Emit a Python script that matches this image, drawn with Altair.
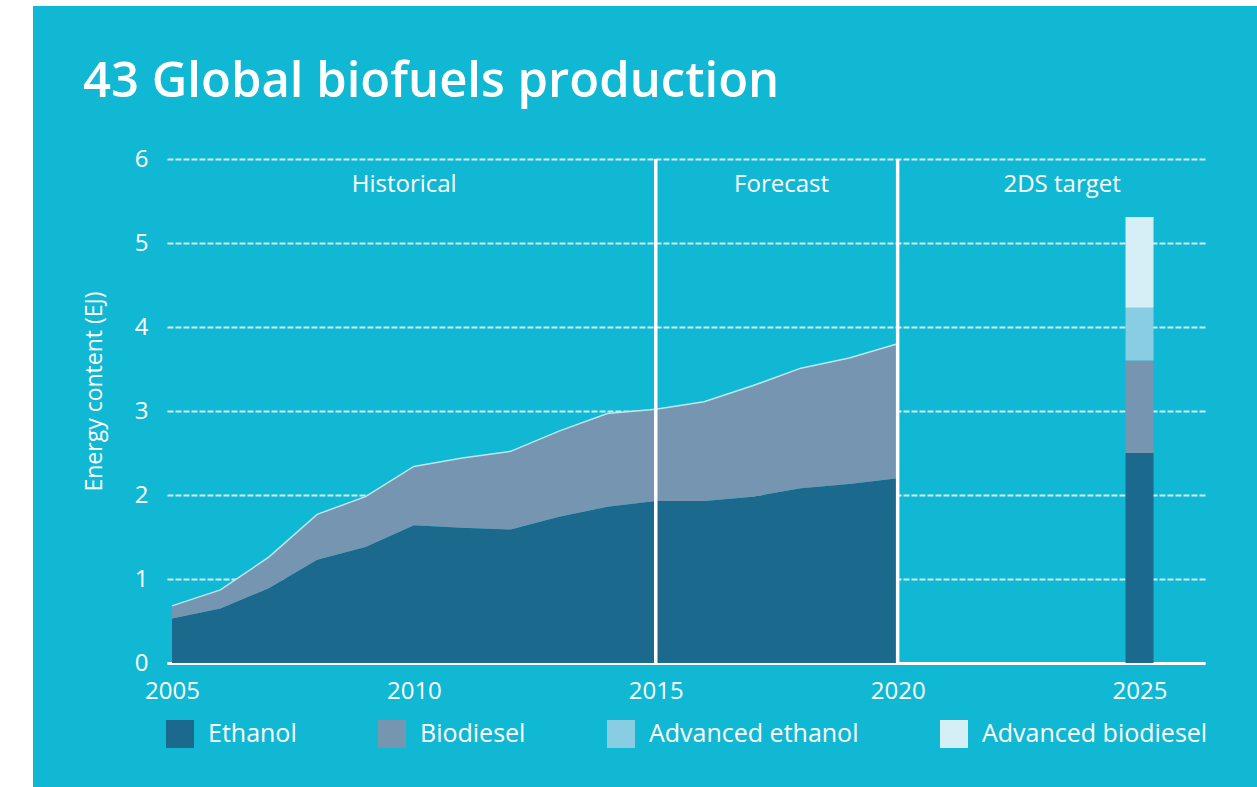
import altair as alt
import pandas as pd

# ---- data ----
years = list(range(2005, 2021))
ethanol = [0.53, 0.65, 0.89, 1.23, 1.38, 1.64, 1.61, 1.59, 1.74, 1.86, 1.93, 1.93, 1.98, 2.08, 2.13, 2.20]
biodiesel = [0.15, 0.22, 0.37, 0.54, 0.60, 0.70, 0.83, 0.93, 1.02, 1.11, 1.09, 1.18, 1.32, 1.43, 1.50, 1.60]

target_year = 2025
fuels = ["Ethanol", "Biodiesel", "Advanced ethanol", "Advanced biodiesel"]
target_values = [2.50, 1.10, 0.63, 1.08]

period_labels = ["Historical", "Forecast", "2DS target"]
period_label_x = [2009.8, 2017.6, 2023.4]
period_bounds = [2015, 2020]

x_ticks = [2005, 2010, 2015, 2020, 2025]
y_ticks = [0, 1, 2, 3, 4, 5, 6]

title_text = "43 Global biofuels production"

# ---- styles ----
BG = "#10B8D3"
colors = ["#1B6A8D", "#7595B0", "#88CDE2", "#D6EEF5"]
FONT = "Open Sans"
W, H = 1038, 504
PAD = {"left": 167, "top": 159, "right": 52, "bottom": 124}

area_df = pd.DataFrame({
    "year": years * 2,
    "fuel": ["Ethanol"] * len(years) + ["Biodiesel"] * len(years),
    "value": ethanol + biodiesel,
    "order": [0] * len(years) + [1] * len(years),
})
total_df = pd.DataFrame({"year": years, "total": [e + b for e, b in zip(ethanol, biodiesel)]})
bar_df = pd.DataFrame({
    "year": [target_year] * len(fuels),
    "fuel": fuels,
    "value": target_values,
    "order": list(range(len(fuels))),
})
bounds_df = pd.DataFrame({"year": period_bounds})
labels_df = pd.DataFrame({"year": period_label_x, "label": period_labels})
title_df = pd.DataFrame({"title": [title_text]})
one_df = pd.DataFrame({"a": [0]})

xscale = alt.Scale(domain=[2005, 2026.25], nice=False, zero=False)
yscale = alt.Scale(domain=[0, 6], nice=False)

x_axis = alt.Axis(values=x_ticks, format="d", title=None)
y_axis = alt.Axis(values=y_ticks, title="Energy content (EJ)")

x_enc = alt.X("year:Q", scale=xscale, axis=x_axis)

color = alt.Color(
    "fuel:N",
    scale=alt.Scale(domain=fuels, range=colors),
    legend=alt.Legend(
        orient="none", legendX=-1, legendY=561, direction="horizontal",
        title=None, symbolType="square", symbolSize=784, symbolStrokeWidth=0,
        symbolOpacity=1, labelFontSize=25, labelFont=FONT, labelColor="white",
        labelOffset=14, columnPadding=81, padding=0, labelLimit=400,
    ),
)

area = alt.Chart(area_df).mark_area(opacity=1).encode(
    x=x_enc,
    y=alt.Y("value:Q", stack="zero", scale=yscale, axis=y_axis),
    color=color,
    order=alt.Order("order:Q"),
)

top_line = alt.Chart(total_df).mark_line(color="#BDE6EF", strokeWidth=1.5).encode(
    x=x_enc,
    y=alt.Y("total:Q", scale=yscale, axis=y_axis),
)

bars = alt.Chart(bar_df).mark_bar(size=28, opacity=1).encode(
    x=x_enc,
    y=alt.Y("value:Q", stack="zero", scale=yscale, axis=y_axis),
    color=color,
    order=alt.Order("order:Q"),
)

rules = alt.Chart(bounds_df).mark_rule(color="white", strokeWidth=3.5).encode(
    x=x_enc,
    y=alt.value(0),
    y2=alt.value(H + 2),
)

period_text = alt.Chart(labels_df).mark_text(
    color="white", font=FONT, fontSize=24, baseline="middle", align="center"
).encode(
    x=x_enc,
    y=alt.value(26),
    text="label:N",
)

title_mark = alt.Chart(title_df).mark_text(
    color="white", font=FONT, fontSize=49, fontWeight=600,
    baseline="alphabetic", align="left",
).encode(
    x=alt.value(83 - PAD["left"]),
    y=alt.value(97 - PAD["top"]),
    text="title:N",
)

left_strip = alt.Chart(one_df).mark_rect(color="white").encode(
    x=alt.value(-PAD["left"]), x2=alt.value(-PAD["left"] + 33),
    y=alt.value(-PAD["top"]), y2=alt.value(H + PAD["bottom"]),
)
top_strip = alt.Chart(one_df).mark_rect(color="white").encode(
    x=alt.value(-PAD["left"]), x2=alt.value(W + PAD["right"]),
    y=alt.value(-PAD["top"]), y2=alt.value(-PAD["top"] + 6),
)

chart = alt.layer(
    area, top_line, bars, rules, period_text, title_mark, left_strip, top_strip
).properties(
    width=W,
    height=H,
    padding=PAD,
    autosize=alt.AutoSizeParams(type="none"),
).configure(
    background=BG,
).configure_view(
    stroke=None,
).configure_axisX(
    domainColor="white", domainWidth=3, ticks=False, tickSize=0,
    labelColor="white", labelFont=FONT, labelFontSize=24, labelPadding=16,
    grid=False, zindex=1, labelFlush=False,
).configure_axisY(
    domain=False, ticks=False, tickSize=0, grid=True, gridColor="white",
    gridWidth=2, gridOpacity=0.8, gridDash=[6, 2],
    labelColor="white", labelFont=FONT, labelFontSize=24, labelPadding=19,
    titleColor="white", titleFont=FONT, titleFontSize=23, titleFontWeight="normal",
    titleX=-73, titleY=232, titleAngle=270, titleAlign="center", titleBaseline="middle",
    zindex=0,
)

chart.save("out.html", embed_options={"renderer": "svg", "actions": False})
